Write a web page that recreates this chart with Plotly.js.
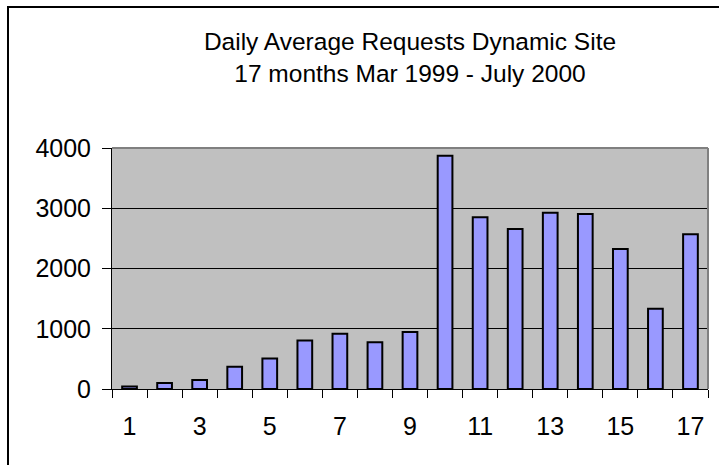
<!DOCTYPE html>
<html>
<head>
<meta charset="utf-8">
<script src="https://cdn.plot.ly/plotly-3.0.1.min.js"></script>
<style>
  body { margin: 0; background: #fff; }
  #wrap { position: relative; width: 719px; height: 465px; }
  #grafico { width: 719px; height: 465px; }
  #frame {
    position: absolute; left: 7px; top: 6px; right: -10px; bottom: -10px;
    border-left: 2px solid #000; border-top: 2px solid #000;
    pointer-events: none;
  }
</style>
</head>
<body>
<div id="wrap">
  <div id="grafico"></div>
  <div id="frame"></div>
</div>
<script>
// months 1..17 (Mar 1999 - July 2000)
const months = ['1','2','3','4','5','6','7','8','9','10','11','12','13','14','15','16','17'];
const monthLabels = ['1','','3','','5','','7','','9','','11','','13','','15','','17'];
const requests = [40, 100, 150, 370, 505, 805, 915, 775, 945, 3870, 2850, 2655, 2925, 2905, 2325, 1330, 2570];
const yTicks = [0, 1000, 2000, 3000, 4000];

const trace = {
    x: months,
    y: requests,
    type: 'bar',
    width: 0.42,
    marker: { color: '#9999FF', line: { color: '#000', width: 2 } },
    hoverinfo: 'x+y'
};

const layout = {
    width: 719,
    height: 465,
    margin: { l: 112, r: 11, t: 148, b: 76 },
    paper_bgcolor: '#fff',
    plot_bgcolor: '#C0C0C0',
    font: { family: 'Liberation Sans, Arial, sans-serif', size: 25, color: '#000' },
    showlegend: false,
    title: {
        text: 'Daily Average Requests Dynamic Site<br>17 months Mar 1999 - July 2000',
        font: { size: 24.5, color: '#000' },
        x: 0.5, xref: 'paper', xanchor: 'center',
        y: 0.892, yref: 'container', yanchor: 'middle'
    },
    xaxis: {
        type: 'category',
        tickvals: months,
        ticktext: monthLabels,
        tickson: 'boundaries',
        tickangle: 0,
        ticks: 'outside',
        ticklen: 8,
        tickcolor: '#000',
        tickwidth: 1,
        showline: true,
        linecolor: '#000',
        linewidth: 1,
        showgrid: false,
        ticklabelstandoff: 15,
        tickfont: { size: 25 }
    },
    yaxis: {
        range: [0, 4000],
        tickvals: yTicks,
        ticks: 'outside',
        ticklen: 9,
        tickcolor: '#000',
        showline: true,
        linecolor: '#000',
        linewidth: 1,
        showgrid: true,
        gridcolor: '#000',
        gridwidth: 1,
        zeroline: false,
        ticklabelstandoff: 6,
        tickfont: { size: 25 }
    },
    shapes: [
        { type: 'line', xref: 'paper', yref: 'paper', x0: 0, x1: 1, y0: 1, y1: 1,
          line: { color: '#808080', width: 2 }, layer: 'above' },
        { type: 'line', xref: 'paper', yref: 'paper', x0: 1, x1: 1, y0: 0, y1: 1,
          line: { color: '#808080', width: 2 }, layer: 'above' }
    ],
    bargap: 0.58
};

Plotly.newPlot('grafico', [trace], layout, { displayModeBar: false, staticPlot: true });
</script>
</body>
</html>
